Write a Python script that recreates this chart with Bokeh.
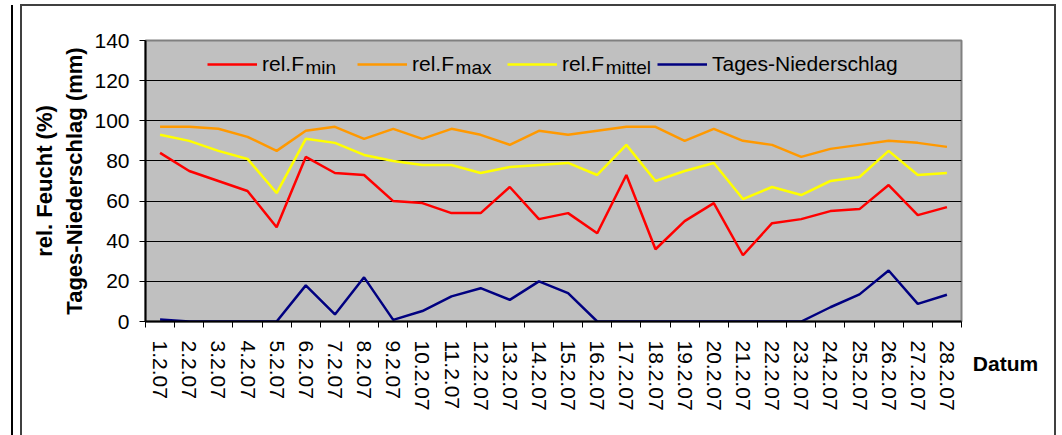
from bokeh.plotting import figure
from bokeh.layouts import row
from bokeh.models import Range1d, FixedTicker, Legend, LegendItem, Label, InlineStyleSheet
from bokeh.embed import file_html
from bokeh.resources import INLINE

dates = ["1.2.07", "2.2.07", "3.2.07", "4.2.07", "5.2.07", "6.2.07", "7.2.07",
         "8.2.07", "9.2.07", "10.2.07", "11.2.07", "12.2.07", "13.2.07", "14.2.07",
         "15.2.07", "16.2.07", "17.2.07", "18.2.07", "19.2.07", "20.2.07", "21.2.07",
         "22.2.07", "23.2.07", "24.2.07", "25.2.07", "26.2.07", "27.2.07", "28.2.07"]
rel_f_min = [84, 75, 70, 65, 47, 82, 74, 73, 60, 59, 54, 54, 67, 51,
             54, 44, 73, 36, 50, 59, 33, 49, 51, 55, 56, 68, 53, 57]
rel_f_max = [97, 97, 96, 92, 85, 95, 97, 91, 96, 91, 96, 93, 88, 95,
             93, 95, 97, 97, 90, 96, 90, 88, 82, 86, 88, 90, 89, 87]
rel_f_mittel = [93, 90, 85, 81, 64, 91, 89, 83, 80, 78, 78, 74, 77, 78,
                79, 73, 88, 70, 75, 79, 61, 67, 63, 70, 72, 85, 73, 74]
niederschlag = [1, 0, 0, 0, 0, 18, 3.5, 22, 0.8, 5.2, 12.5, 16.6, 10.8, 20,
                14.1, 0, 0, 0, 0, 0, 0, 0, 0, 7.1, 13.5, 25.4, 8.8, 13.3]
y_ticks = [0, 20, 40, 60, 80, 100, 120, 140]

FONT = "Liberation Sans"
xs = list(range(1, len(dates) + 1))

border_css = InlineStyleSheet(css="""
:host { position: relative; }
:host::before { content: ""; position: absolute; left: 11px; top: 5px; width: 2px;
  height: 430px; background: #000; pointer-events: none; z-index: 100; }
:host::after { content: ""; position: absolute; left: 20px; top: 4px; width: 1036px;
  height: 431px; box-sizing: border-box; border-left: 2px solid #404040;
  border-top: 2px solid #404040; border-right: 2px solid #404040;
  pointer-events: none; z-index: 100; }
""")

p = figure(width=973, height=435, output_backend="svg", toolbar_location=None,
           x_range=Range1d(0.5, len(dates) + 0.5), y_range=Range1d(0, 140),
           min_border_left=145, min_border_right=12, min_border_top=40,
           min_border_bottom=114)
p.background_fill_color = "#C0C0C0"
p.border_fill_color = "white"
p.outline_line_color = "#808080"
p.outline_line_width = 2

# x axis
p.xaxis.ticker = FixedTicker(ticks=xs, minor_ticks=[i + 0.5 for i in range(0, len(dates) + 1)])
p.xaxis.major_label_overrides = {i: d for i, d in zip(xs, dates)}
p.xaxis.major_label_orientation = "vertical"
p.xaxis.major_tick_out = 0
p.xaxis.major_tick_in = 0
p.xaxis.minor_tick_out = 6
p.xaxis.minor_tick_in = 0
p.xaxis.minor_tick_line_color = "black"
p.xaxis.major_label_standoff = 13
# y axis
p.yaxis.ticker = FixedTicker(ticks=y_ticks)
p.yaxis.major_tick_out = 6
p.yaxis.major_tick_in = 0
p.yaxis.minor_tick_out = 0
p.yaxis.major_label_standoff = 10
p.yaxis.axis_label = "rel. Feucht (%)\nTages-Niederschlag (mm)"
p.yaxis.axis_label_text_font = FONT
p.yaxis.axis_label_text_font_style = "bold"
p.yaxis.axis_label_text_font_size = "22px"
p.yaxis.axis_label_standoff = 4
p.yaxis.axis_label_text_color = "black"
for ax in (p.xaxis, p.yaxis):
    ax.axis_line_color = "black"
    ax.axis_line_width = 2
    ax.major_tick_line_color = "black"
    ax.major_label_text_font = FONT
    ax.major_label_text_font_size = "21px"
    ax.major_label_text_color = "black"

p.xgrid.visible = False
p.ygrid.ticker = FixedTicker(ticks=y_ticks[1:-1])
p.ygrid.grid_line_color = "black"
p.ygrid.grid_line_width = 1

r1 = p.line(xs, rel_f_min, line_color="#FF0000", line_width=2.5)
r2 = p.line(xs, rel_f_max, line_color="#FF9900", line_width=2.5)
r3 = p.line(xs, rel_f_mittel, line_color="#FFFF00", line_width=2.5)
r4 = p.line(xs, niederschlag, line_color="#000080", line_width=2.5)

legend = Legend(items=[LegendItem(label="rel.F", renderers=[r1]),
                       LegendItem(label="rel.F", renderers=[r2]),
                       LegendItem(label="rel.F", renderers=[r3]),
                       LegendItem(label="Tages-Niederschlag", renderers=[r4])],
                orientation="horizontal", location=(62, 245),
                background_fill_alpha=0, border_line_alpha=0,
                glyph_width=50, glyph_height=20, label_height=20,
                label_standoff=5, label_width=95, spacing=0, padding=0, margin=0,
                label_text_font=FONT, label_text_font_size="21px",
                label_text_color="black")
p.add_layout(legend)

for sx, sub in [(5.99, "min"), (11.14, "max"), (16.29, "mittel")]:
    p.add_layout(Label(x=sx, y=126.7, text=sub, text_font=FONT, text_font_size="19px",
                       text_color="black", text_baseline="alphabetic"))

# side strip whose (tick-less) x axis carries the axis title "Datum"
p2 = figure(width=89, height=435, output_backend="svg", toolbar_location=None,
            x_range=Range1d(0, 1), y_range=Range1d(0, 1), y_axis_type=None,
            min_border_left=0, min_border_right=25, min_border_top=40,
            min_border_bottom=114)
p2.outline_line_color = None
p2.background_fill_color = "white"
p2.border_fill_color = "white"
p2.grid.visible = False
p2.xaxis.ticker = FixedTicker(ticks=[])
p2.xaxis.axis_line_color = None
p2.xaxis.major_tick_line_color = None
p2.xaxis.minor_tick_line_color = None
p2.xaxis.major_label_text_font_size = "0px"
p2.xaxis.major_label_standoff = 0
p2.xaxis.axis_label = "Datum"
p2.xaxis.axis_label_text_font = FONT
p2.xaxis.axis_label_text_font_size = "21px"
p2.xaxis.axis_label_text_font_style = "bold"
p2.xaxis.axis_label_text_color = "black"
p2.xaxis.axis_label_standoff = 30

layout = row(p, p2, stylesheets=[border_css])
open("out.html", "w").write(file_html(layout, INLINE))
